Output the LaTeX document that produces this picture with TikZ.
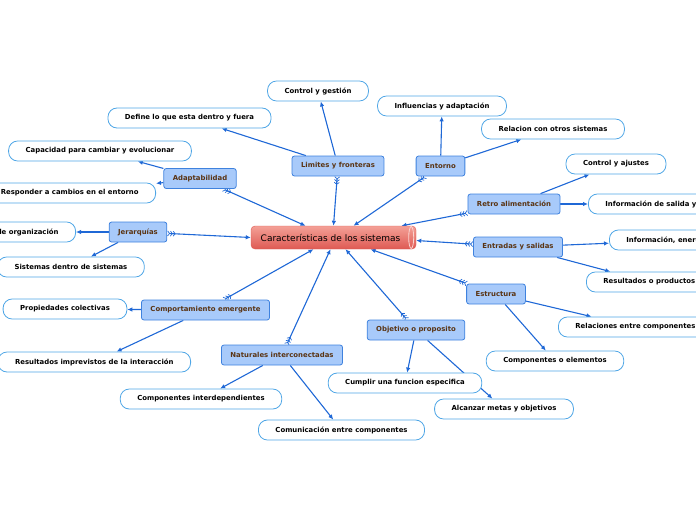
\documentclass[tikz,border=0pt]{standalone}
\usepackage{fontspec}
\setmainfont{DejaVu Sans}
\usetikzlibrary{arrows.meta, backgrounds}

\definecolor{linkblue}{HTML}{1F68D6}
\definecolor{topicfill}{HTML}{A8CAFA}
\definecolor{topicdraw}{HTML}{3F82DE}
\definecolor{topictext}{HTML}{5A3413}
\definecolor{leafdraw}{HTML}{4FA6E6}
\definecolor{mainlight}{HTML}{F4A097}
\definecolor{maindark}{HTML}{DE5A53}

\begin{document}
\begin{tikzpicture}[
  x=1pt, y=-1pt,
  font=\fontsize{6.9}{8}\selectfont\bfseries,
  main/.style={
    rounded corners=4pt, top color=mainlight, bottom color=maindark,
    draw=maindark, minimum width=165pt, minimum height=23pt,
    font=\fontsize{9}{10}\selectfont
  },
  topic/.style={
    draw=topicdraw, fill=topicfill, text=topictext, rounded corners=2.5pt,
    minimum height=20pt, inner xsep=9pt, line width=0.8pt
  },
  leaf/.style={
    draw=leafdraw, fill=white, rounded corners=9pt,
    minimum height=20pt, inner xsep=17pt, line width=0.8pt
  },
  barbs/.tip={Straight Barb[reversed,length=2pt,width=5pt,line width=0.7pt]
    Straight Barb[reversed,length=2pt,width=5pt,line width=0.7pt]
    Straight Barb[reversed,length=2pt,width=5pt,line width=0.7pt]},
  spoke/.style={draw=linkblue, line width=1.1pt, barbs-{Latex[length=5pt,width=4.5pt]}},
  twig/.style={draw=linkblue, line width=1.1pt, -{Latex[length=5pt,width=4.5pt]}},
]
  \useasboundingbox (0,0) rectangle (696,520);

  % --- Central topic ---
  \node[main] (main) at (333.5,237.5) {\hspace*{-6pt}Características de los sistemas};
  \draw[white!55!mainlight, line width=0.8pt] ([xshift=-5pt]main.east) ellipse [x radius=2.5pt, y radius=11pt];

  % --- Main branches ---
  \node[topic] (lim)  at (338,166)   {Limites y fronteras};
  \node[topic] (ent)  at (440.5,166) {Entorno};
  \node[topic] (adap) at (200,178.5) {Adaptabilidad};
  \node[topic] (retro) at (514,204)  {Retro alimentación};
  \node[topic] (jer)  at (138,232)   {Jerarquías};
  \node[topic] (entr) at (518,247)   {Entradas y salidas};
  \node[topic] (estr) at (496,294)   {Estructura};
  \node[topic] (comp) at (205.5,310) {Comportamiento emergente};
  \node[topic] (obj)  at (416,330)   {Objetivo o proposito};
  \node[topic] (nat)  at (282,355)   {Naturales interconectadas};

  % --- Leaves ---
  \node[leaf] (gest)   at (318,91)    {Control y gestión};
  \node[leaf] (define) at (189.5,118) {Define lo que esta dentro y fuera};
  \node[leaf] (influ)  at (442,106)   {Influencias y adaptación};
  \node[leaf] (rel)    at (553,129)   {Relacion con otros sistemas};
  \node[leaf] (capac)  at (100,151)   {Capacidad para cambiar y evolucionar};
  \node[leaf, anchor=east] (resp) at (156,193) {Responder a cambios en el entorno};
  \node[leaf] (ajust)  at (616,164)   {Control y ajustes};
  \node[leaf, anchor=west] (salida) at (588,204) {Información de salida y entrada};
  \node[leaf, anchor=east] (niv) at (76,232) {Niveles de organización};
  \node[leaf, anchor=west] (energ) at (609,240) {Información, energía y materia};
  \node[leaf] (sisdentro) at (71,267) {Sistemas dentro de sistemas};
  \node[leaf, anchor=west] (prod) at (586,282) {Resultados o productos};
  \node[leaf] (propi)  at (65,309)    {Propiedades colectivas};
  \node[leaf, anchor=west] (relcomp) at (558,327) {Relaciones entre componentes};
  \node[leaf] (elem)   at (555,361)   {Componentes o elementos};
  \node[leaf, anchor=east] (imprev) at (191,362) {Resultados imprevistos de la interacción};
  \node[leaf] (cumplir) at (405,383)  {Cumplir una funcion especifica};
  \node[leaf] (interd) at (201,399)   {Componentes interdependientes};
  \node[leaf] (metas)  at (504,409)   {Alcanzar metas y objetivos};
  \node[leaf] (comun)  at (341.5,430) {Comunicación entre componentes};

  \begin{scope}[on background layer]
    % spokes to the central topic
    \draw[spoke] (lim) -- (main.north);
    \draw[spoke] (ent) -- ([xshift=20pt]main.north);
    \draw[spoke] (adap) -- ([xshift=-28pt]main.north);
    \draw[spoke] (retro) -- ([xshift=68pt]main.north);
    \draw[spoke] (jer) -- (main.west);
    \draw[spoke] (entr) -- ([yshift=-3pt]main.east);
    \draw[spoke] (estr) -- ([xshift=37pt]main.south);
    \draw[spoke] (comp) -- ([xshift=-20pt]main.south);
    \draw[spoke] (obj) -- ([xshift=12pt]main.south);
    \draw[spoke] (nat) -- ([xshift=-3pt]main.south);

    % branches to leaves
    \draw[twig] (lim) -- (gest);
    \draw[twig] (lim) -- (define);
    \draw[twig] (ent) -- (influ);
    \draw[twig] (ent) -- (rel);
    \draw[twig] (adap) -- (capac);
    \draw[twig] (adap) -- (resp);
    \draw[twig] (retro) -- (ajust);
    \draw[twig] (retro) -- (salida);
    \draw[twig] (jer) -- (niv);
    \draw[twig] (jer) -- (sisdentro);
    \draw[twig] (entr) -- (energ);
    \draw[twig] (entr) -- (prod);
    \draw[twig] (estr) -- (relcomp);
    \draw[twig] (estr) -- (elem);
    \draw[twig] (comp) -- (propi);
    \draw[twig] (comp) -- (imprev);
    \draw[twig] (obj) -- (cumplir);
    \draw[twig] (obj) -- (metas);
    \draw[twig] (nat) -- (interd);
    \draw[twig] (nat) -- (comun);
  \end{scope}

\end{tikzpicture}
\end{document}
